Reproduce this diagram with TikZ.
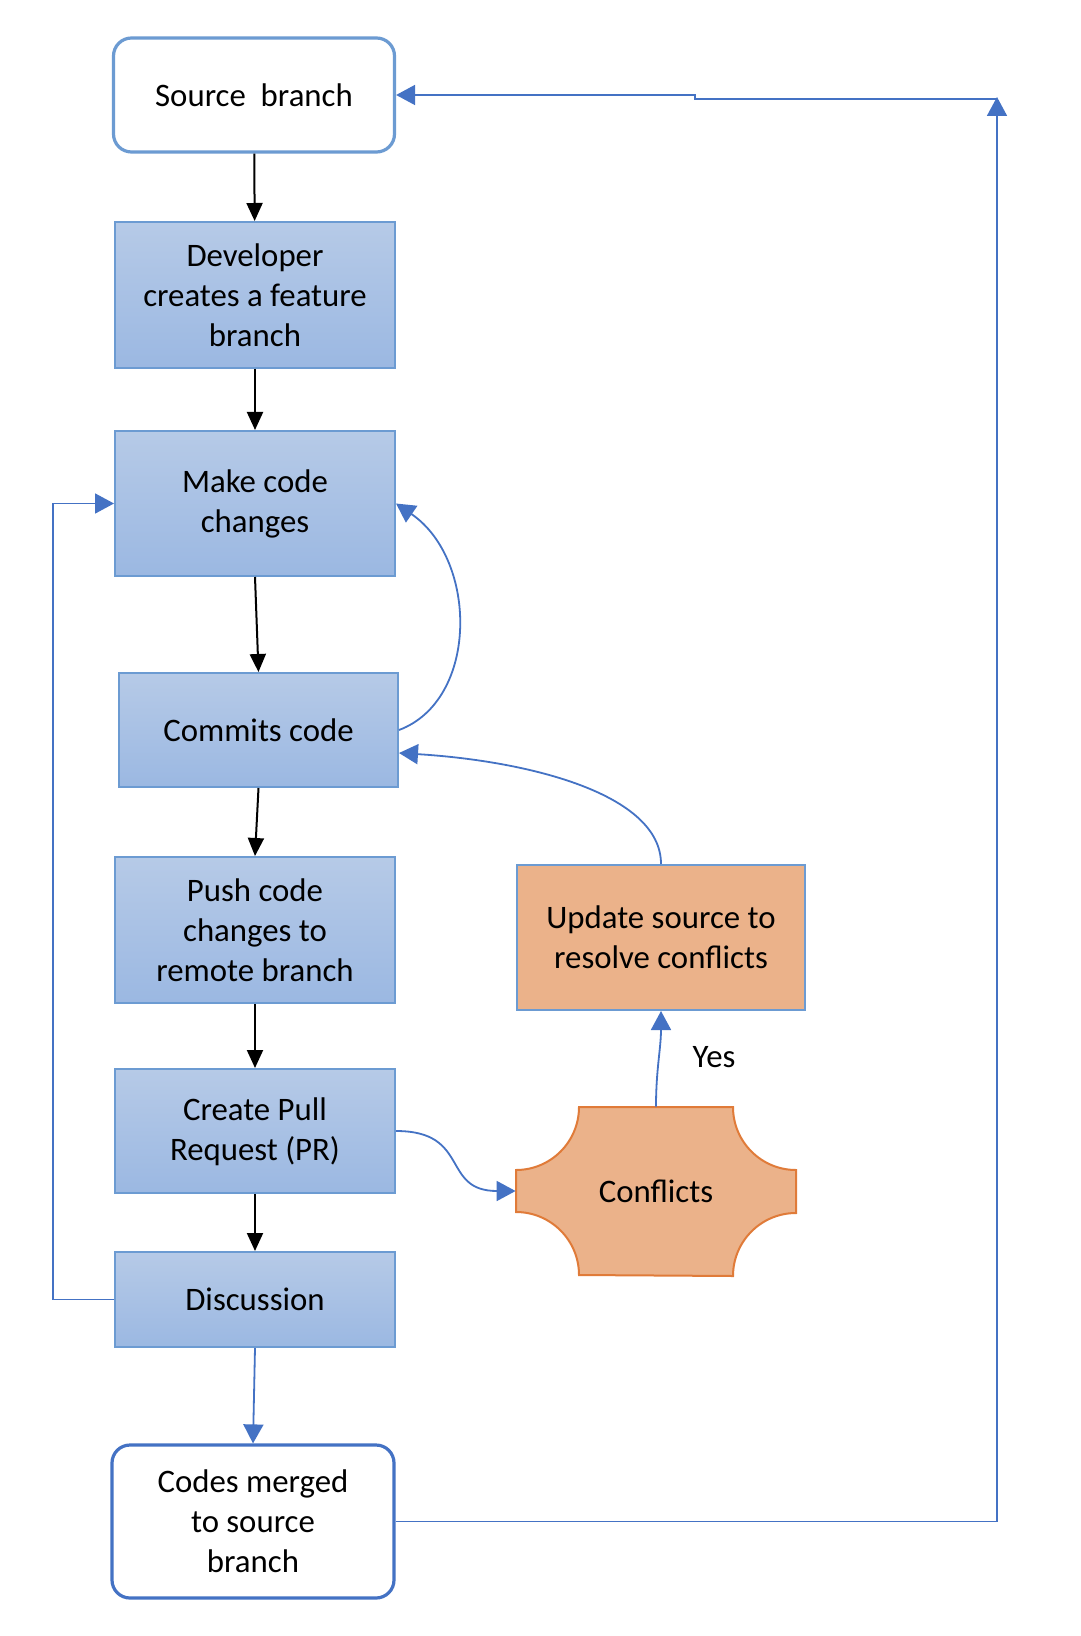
\documentclass[tikz,border=0pt]{standalone}
\usepackage{fontspec}
\setmainfont{Carlito}
\usetikzlibrary{arrows.meta}
\definecolor{boxline}{HTML}{6C9BD2}
\definecolor{arrowblue}{HTML}{4472C4}
\definecolor{shadetop}{HTML}{B6CAE7}
\definecolor{shadebot}{HTML}{9BB8E2}
\definecolor{orangefill}{HTML}{EBB28A}
\definecolor{orangeline}{HTML}{E07B39}
\begin{document}
\begin{tikzpicture}[x=0.5pt,y=0.5pt,
  every node/.style={font=\fontsize{16.4pt}{20pt}\selectfont,align=center,inner sep=0pt},
  stepbox/.style={draw=boxline,line width=1pt,top color=shadetop,bottom color=shadebot,minimum width=140pt},
  endbox/.style={draw=#1,line width=1.6pt,fill=white,rounded corners=9pt},
  blackarrow/.style={-{Triangle[length=9pt,width=8pt]},line width=1pt},
  bluearrow/.style={-{Triangle[length=9.5pt,width=10pt]},draw=arrowblue,line width=0.9pt}]
\path[use as bounding box,fill=white](0,0) rectangle (1080,-1636);
\node[endbox=boxline,minimum width=140.5pt,minimum height=57pt] (src) at (254,-95) {Source~ branch};
\node[stepbox,minimum height=73pt] (dev) at (255,-295) {Developer\\creates a feature\\branch};
\node[stepbox,minimum height=72.5pt,text depth=2pt] (make) at (255,-503.5) {Make code\\changes};
\node[stepbox,minimum width=139.5pt,minimum height=57pt] (commit) at (258.5,-730) {Commits code};
\node[stepbox,minimum height=73pt] (push) at (255,-930) {Push code\\changes to\\remote branch};
\node[stepbox,minimum height=62pt,text depth=2pt] (pr) at (255,-1131) {Create Pull\\Request (PR)};
\node[stepbox,minimum height=47.5pt] (disc) at (255,-1299.5) {Discussion};
\node[endbox=arrowblue,minimum width=141pt,minimum height=76.5pt] (merged) at (253,-1521.5) {Codes merged\\to source\\branch};
\node[draw=boxline,line width=1pt,fill=orangefill,minimum width=144pt,minimum height=72.5pt] (upd) at (661,-937.5) {Update source to\\resolve conflicts};
\fill[orangefill,draw=orangeline,line width=1pt](579,-1107)--(733,-1107)
  arc[start angle=180,end angle=270,radius=63]--(796,-1213)
  arc[start angle=90,end angle=180,radius=63]--(579,-1275)
  arc[start angle=0,end angle=90,radius=63]--(516,-1170)
  arc[start angle=270,end angle=360,radius=63]--cycle;
\node[minimum width=140pt,minimum height=84pt] (confl) at (656,-1191) {Conflicts};
\node (yes) at (714,-1057) {Yes};
\coordinate (top) at (997,-97);
\draw[blackarrow](src)--(dev);
\draw[blackarrow](dev)--(make);
\draw[blackarrow](make.south)--(commit.north);
\draw[blackarrow](commit.south)--(push.north);
\draw[blackarrow](push)--(pr);
\draw[blackarrow](pr)--(disc);
\draw[bluearrow](disc.south)--(merged.north);
\draw[bluearrow](commit.east) .. controls +(80,30) and +(82,-56) .. (make.east);
\draw[bluearrow](upd.north) .. controls +(0,70) and +(130,-8) .. ([yshift=-11.5pt]commit.east);
\draw[bluearrow](pr.east) .. controls +(75,0) and +(-75,0) .. (confl.west);
\draw[bluearrow](confl.north) to[out=90,in=-90] (upd.south);
\draw[bluearrow](disc.west)--++(-61,0)|-(make.west);
\draw[bluearrow](merged.east)-|(top);
\draw[bluearrow](top)++(0,-2)--++(-302,0)--++(0,4)--(src.east);
\end{tikzpicture}
\end{document}
